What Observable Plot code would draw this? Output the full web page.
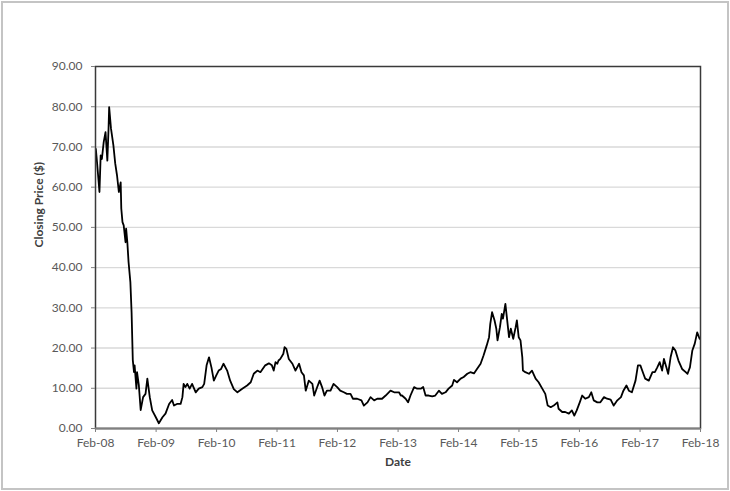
<!DOCTYPE html>
<html>
<head>
<meta charset="utf-8">
<script src="https://cdn.jsdelivr.net/npm/d3@7"></script>
<script src="https://cdn.jsdelivr.net/npm/@observablehq/plot@0.6"></script>
<style>
  html, body { margin: 0; padding: 0; background: #fff; }
  #wrap { position: relative; width: 730px; height: 491px; overflow: hidden; }
  #border { position: absolute; left: 1px; top: 1px; width: 724px; height: 485px; border: 2px solid #c4c4c4; pointer-events: none; }
</style>
</head>
<body>
<div id="wrap"><div id="border"></div></div>
<script>
// Dates as decimal years, closing prices ($)
const years = [
  2008.09, 2008.11, 2008.15, 2008.17, 2008.19, 2008.22, 2008.25, 2008.28, 2008.30, 2008.31,
  2008.34, 2008.38, 2008.41, 2008.44, 2008.47, 2008.50, 2008.51, 2008.53, 2008.55, 2008.58,
  2008.59, 2008.61, 2008.63, 2008.66, 2008.68, 2008.70, 2008.72, 2008.73, 2008.76, 2008.77,
  2008.80, 2008.83, 2008.87, 2008.91, 2008.94, 2008.98, 2009.02, 2009.08, 2009.13, 2009.19,
  2009.24, 2009.30, 2009.35, 2009.38, 2009.43, 2009.49, 2009.52, 2009.54, 2009.57, 2009.60,
  2009.64, 2009.68, 2009.74, 2009.79, 2009.85, 2009.88, 2009.92, 2009.96, 2010.00, 2010.04,
  2010.08, 2010.12, 2010.16, 2010.20, 2010.26, 2010.31, 2010.37, 2010.43, 2010.51, 2010.59,
  2010.65, 2010.70, 2010.76, 2010.81, 2010.89, 2010.95, 2011.00, 2011.03, 2011.06, 2011.09,
  2011.11, 2011.14, 2011.19, 2011.21, 2011.24, 2011.28, 2011.34, 2011.39, 2011.45, 2011.49,
  2011.53, 2011.56, 2011.61, 2011.67, 2011.70, 2011.75, 2011.79, 2011.83, 2011.87, 2011.91,
  2011.97, 2012.02, 2012.08, 2012.13, 2012.19, 2012.24, 2012.30, 2012.34, 2012.41, 2012.48,
  2012.52, 2012.58, 2012.63, 2012.69, 2012.74, 2012.82, 2012.88, 2012.96, 2013.02, 2013.07,
  2013.10, 2013.13, 2013.15, 2013.21, 2013.25, 2013.29, 2013.35, 2013.40, 2013.46, 2013.50,
  2013.54, 2013.59, 2013.65, 2013.70, 2013.76, 2013.81, 2013.87, 2013.92, 2013.98, 2014.01,
  2014.06, 2014.12, 2014.17, 2014.23, 2014.28, 2014.34, 2014.39, 2014.45, 2014.50, 2014.55,
  2014.59, 2014.61, 2014.64, 2014.68, 2014.71, 2014.73, 2014.77, 2014.80, 2014.82, 2014.86,
  2014.89, 2014.92, 2014.95, 2014.99, 2015.03, 2015.05, 2015.08, 2015.11, 2015.14, 2015.15,
  2015.19, 2015.25, 2015.30, 2015.36, 2015.41, 2015.47, 2015.52, 2015.56, 2015.61, 2015.66,
  2015.72, 2015.74, 2015.80, 2015.85, 2015.91, 2015.96, 2016.00, 2016.04, 2016.09, 2016.13,
  2016.18, 2016.24, 2016.28, 2016.32, 2016.38, 2016.43, 2016.49, 2016.54, 2016.60, 2016.65,
  2016.71, 2016.77, 2016.81, 2016.86, 2016.90, 2016.95, 2017.01, 2017.05, 2017.09, 2017.14,
  2017.17, 2017.23, 2017.29, 2017.33, 2017.37, 2017.41, 2017.45, 2017.48, 2017.52, 2017.55,
  2017.59, 2017.63, 2017.67, 2017.72, 2017.78, 2017.84, 2017.87, 2017.91, 2017.95, 2017.99,
  2018.03, 2018.07
];
const prices = [
  69.5, 66.2, 58.8, 67.9, 67.0, 71.2, 73.7, 66.6, 74.6, 79.9,
  74.6, 70.4, 65.9, 62.9, 58.8, 61.2, 54.7, 51.3, 50.5, 46.3,
  49.7, 46.3, 41.4, 36.4, 28.9, 17.0, 14.0, 15.7, 9.9, 14.0,
  10.7, 4.6, 7.8, 8.6, 12.4, 7.8, 4.5, 2.8, 1.3, 2.8,
  3.7, 6.1, 7.1, 5.7, 6.1, 6.1, 7.8, 11.1, 10.3, 11.1,
  9.9, 11.1, 9.0, 9.9, 10.3, 11.1, 15.7, 17.7, 15.2, 11.9,
  13.2, 14.4, 14.8, 16.1, 14.4, 11.9, 9.8, 9.0, 9.9, 10.7,
  11.5, 13.6, 14.4, 14.0, 15.7, 16.2, 15.7, 14.4, 16.5, 16.1,
  16.9, 17.3, 18.6, 20.2, 19.8, 17.3, 16.1, 14.4, 16.1, 14.0,
  13.2, 9.4, 11.9, 11.1, 8.2, 10.3, 11.9, 10.3, 8.2, 9.4,
  9.4, 11.1, 10.3, 9.4, 9.0, 8.6, 8.6, 7.4, 7.4, 7.0,
  5.7, 6.5, 7.8, 7.0, 7.4, 7.4, 8.2, 9.4, 9.0, 9.0,
  9.0, 8.2, 8.2, 7.4, 6.5, 8.2, 10.3, 9.9, 9.9, 10.3,
  8.2, 8.2, 8.0, 8.2, 9.4, 8.6, 9.0, 9.9, 10.7, 12.1,
  11.5, 12.4, 12.8, 13.6, 14.0, 13.7, 14.8, 16.1, 18.2, 20.6,
  22.7, 26.0, 28.9, 26.9, 24.8, 21.9, 25.2, 28.5, 27.3, 31.0,
  26.9, 22.7, 24.8, 22.3, 25.2, 26.9, 22.7, 21.9, 17.7, 14.4,
  14.0, 13.6, 14.4, 12.4, 11.5, 9.9, 8.6, 5.7, 5.3, 5.7,
  6.5, 4.9, 4.1, 4.1, 3.7, 4.5, 3.2, 4.5, 6.5, 8.2,
  7.4, 7.8, 9.0, 7.0, 6.5, 6.5, 7.8, 7.4, 7.2, 5.7,
  7.0, 7.8, 9.4, 10.7, 9.4, 9.0, 11.9, 15.7, 15.7, 13.6,
  12.4, 11.9, 14.0, 14.0, 15.2, 16.5, 14.4, 17.3, 15.2, 13.6,
  17.7, 20.2, 19.4, 16.9, 14.8, 14.0, 13.6, 15.2, 19.4, 21.1,
  23.9, 22.3
];
const tickYears = [2008, 2009, 2010, 2011, 2012, 2013, 2014, 2015, 2016, 2017, 2018];
const tickLabels = ["Feb-08", "Feb-09", "Feb-10", "Feb-11", "Feb-12", "Feb-13", "Feb-14", "Feb-15", "Feb-16", "Feb-17", "Feb-18"];
const yTicks = [0, 10, 20, 30, 40, 50, 60, 70, 80, 90];
const xTitle = "Date";
const yTitle = "Closing Price ($)";

function decYear(y) {
  const yr = Math.floor(y);
  const start = Date.UTC(yr, 0, 1), end = Date.UTC(yr + 1, 0, 1);
  return new Date(start + (y - yr) * (end - start));
}
const data = years.map((y, i) => ({ date: decYear(y), price: prices[i] }));
const tickDates = tickYears.map(y => new Date(Date.UTC(y, 1, 1)));
const labelOf = new Map(tickDates.map((d, i) => [+d, tickLabels[i]]));

const chart = Plot.plot({
  width: 730,
  height: 491,
  marginLeft: 95,
  marginRight: 30,
  marginTop: 66,
  marginBottom: 63,
  style: { fontFamily: "Lato, 'Open Sans', sans-serif", fontSize: "12px", color: "#595959", background: "transparent" },
  x: { type: "utc", domain: [tickDates[0], tickDates[tickDates.length - 1]] },
  y: { domain: [0, 90] },
  marks: [
    Plot.gridY(yTicks.filter(d => d > 0 && d < 90), { stroke: "#d9d9d9", strokeOpacity: 1, strokeWidth: 1.4 }),
    Plot.line(data, { x: "date", y: "price", stroke: "#000", strokeWidth: 1.8, strokeLinejoin: "round" }),
    Plot.frame({ stroke: "#3a3a3a", strokeWidth: 1.5 }),
    Plot.ruleY([0], { stroke: "#808080", strokeWidth: 2.2 }),
    Plot.axisY({ ticks: yTicks, tickFormat: d3.format(".2f"), tickSize: 4, tickPadding: 9, label: null, stroke: "#808080" }),
    Plot.axisX({ ticks: tickDates, tickFormat: d => labelOf.get(+d), tickSize: 4, tickPadding: 6, label: null, stroke: "#808080" }),
    Plot.text([yTitle], { frameAnchor: "left", dx: -56, rotate: -90, fontWeight: "bold", fontSize: 12, fill: "#404040" }),
    Plot.text([xTitle], { frameAnchor: "bottom", dy: 37, fontWeight: "bold", fontSize: 12, fill: "#404040" })
  ]
});
document.getElementById("wrap").prepend(chart);
</script>
</body>
</html>
